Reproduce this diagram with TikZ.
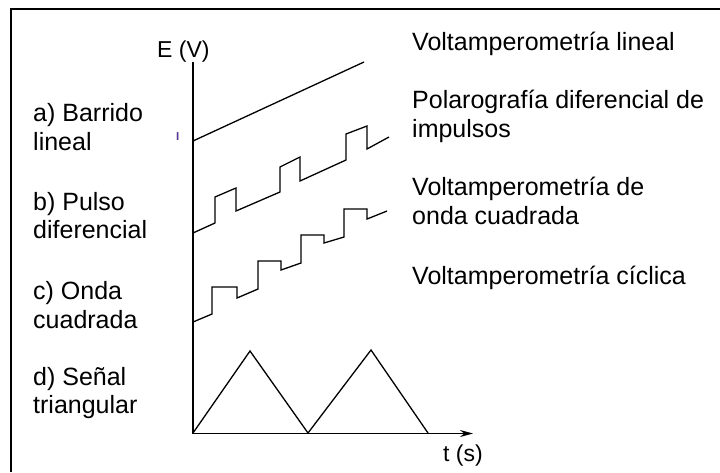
\documentclass[tikz,border=0pt]{standalone}
\usepackage{fontspec}
\setmainfont{Liberation Sans}
\usetikzlibrary{arrows.meta}
\definecolor{markpurple}{RGB}{90,60,150}
\begin{document}
\begin{tikzpicture}[x=1pt,y=-1pt,
  lbl/.style={anchor=base west, inner sep=0pt, font=\fontsize{25}{30}\selectfont, text=black},
  axlbl/.style={anchor=base west, inner sep=0pt, font=\fontsize{23}{27}\selectfont, text=black},
  sig/.style={line width=1.3pt, line join=miter},
  axisline/.style={line width=1.6pt},
  frameline/.style={line width=2.5pt}]
\useasboundingbox (0,0) rectangle (720,472);
\fill[white] (0,0) rectangle (720,472);
% frame (top and left edges visible)
\coordinate (FBL) at (11,472);
\coordinate (FTL) at (11,9);
\coordinate (FTR) at (720,9);
\draw[frameline] (FBL) -- (FTL) -- (FTR);
% axes
\coordinate (O) at (193,433.5);
\coordinate (Ytop) at (193,62);
\coordinate (Xend) at (473,433.5);
\draw[axisline] (Ytop) -- (O);
\draw[axisline,-{Stealth[length=13pt,width=7pt]}] (O) -- (Xend);
\node[axlbl] (EV) at (157,57) {E (V)};
\node[axlbl] (ts) at (443,461) {t (s)};
% mark
\node[anchor=base, inner sep=0pt, font=\fontsize{11.5}{13}\selectfont\bfseries, text=markpurple] (Imark) at (177.7,140.7) {I};
% a) linear sweep
\draw[sig] (193,141) -- (364,62);
% b) differential pulse
\draw[sig] (193,233) -- (215,223) -- (215,197) -- (236,188) -- (236,211)
  -- (280,192) -- (280,167) -- (300,157) -- (300,181)
  -- (346,160) -- (346,134) -- (367,126) -- (367,149) -- (389,137);
% c) square wave
\draw[sig] (193,322) -- (212,314) -- (212,287) -- (237,287) -- (237,298)
  -- (258,289) -- (258,261) -- (281,261) -- (281,270)
  -- (301,263) -- (301,235) -- (324,235) -- (324,243)
  -- (344,237) -- (344,209) -- (367,209) -- (367,219) -- (387,211);
% d) triangular
\draw[sig] (193,433) -- (250,351) -- (308,433) -- (371,350) -- (428,433);
% left labels
\node[lbl] (a1) at (33,121) {a) Barrido};
\node[lbl] (a2) at (33,150) {lineal};
\node[lbl] (b1) at (33,210) {b) Pulso};
\node[lbl] (b2) at (33,238) {diferencial};
\node[lbl] (c1) at (33,299) {c) Onda};
\node[lbl] (c2) at (33,328) {cuadrada};
\node[lbl] (d1) at (33,385) {d) Señal};
\node[lbl] (d2) at (33,413) {triangular};
% right labels
\node[lbl] (r1) at (412,50) {Voltamperometría lineal};
\node[lbl] (r2) at (412,108) {Polarografía diferencial de};
\node[lbl] (r3) at (412,137) {impulsos};
\node[lbl] (r4) at (412,195) {Voltamperometría de};
\node[lbl] (r5) at (412,224) {onda cuadrada};
\node[lbl] (r6) at (412,284) {Voltamperometría cíclica};
\end{tikzpicture}
\end{document}
